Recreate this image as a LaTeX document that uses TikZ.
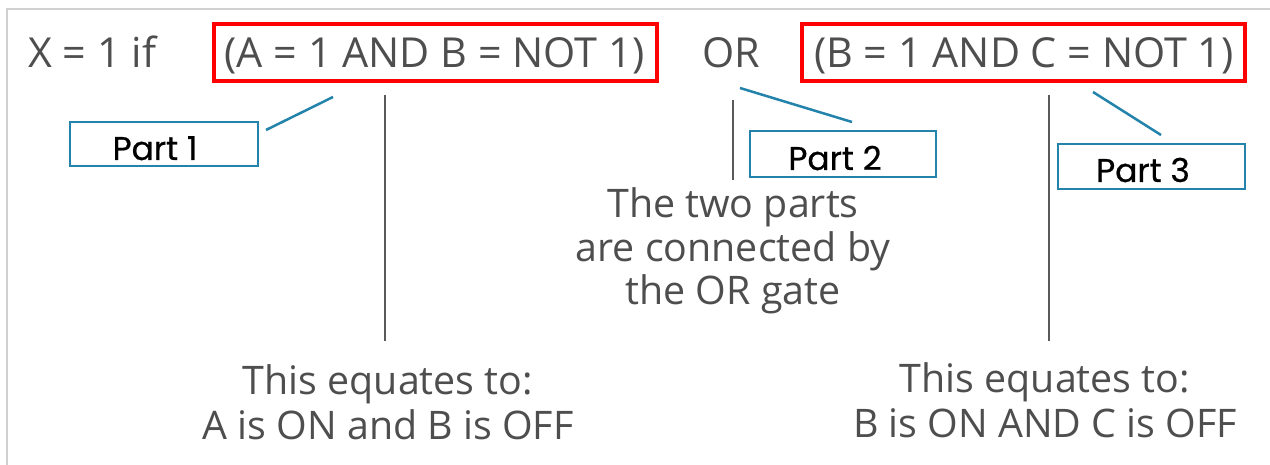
\documentclass[tikz,border=0pt]{standalone}
\usepackage{fontspec}
\setmainfont{Open Sans}
\newfontfamily\partfont[FakeBold=0.6]{Poppins}
\definecolor{txtgray}{HTML}{4E4E4E}
\definecolor{linegray}{HTML}{5A5A5A}
\definecolor{framegray}{HTML}{D0D0D0}
\definecolor{partblue}{HTML}{2383AB}
\definecolor{boxred}{HTML}{FF0000}
\tikzset{
  eqtext/.style={font=\fontsize{41.5}{48}\selectfont, text=txtgray, inner sep=0pt, anchor=base},
  notetext/.style={font=\fontsize{39.5}{46}\selectfont, text=txtgray, inner sep=0pt, align=center},
  redbox/.style={draw=boxred, line width=4bp, minimum width=443bp, minimum height=57bp, inner sep=0pt},
  partbox/.style={draw=partblue, line width=2.5bp, inner sep=0pt, font=\partfont\fontsize{33}{36}\selectfont, text=black},
  partline/.style={draw=partblue, line width=2.5bp},
  vline/.style={draw=linegray, line width=2bp}
}
\begin{document}
\begin{tikzpicture}[x=1bp,y=-1bp]
\useasboundingbox[fill=white] (0,0) rectangle (1270,465);
% frame
\draw[framegray, line width=1.5bp] (7,465) -- (7,9) -- (1270,9);
% equation
\node[eqtext, anchor=base west] (xif) at (28,68) {X = 1 if};
\node[redbox] (r1) at (435.5,52.5) {};
\node[eqtext] (p1) at (434.5,68) {(A = 1 AND B = NOT 1)};
\node[eqtext] (or) at (731,68) {OR};
\node[redbox] (r2) at (1023.5,52.5) {};
\node[eqtext] (p2) at (1024,68) {(B = 1 AND C = NOT 1)};
% part boxes
\node[partbox, minimum width=188bp, minimum height=44bp] (b1) at (164,144) {};
\node[partbox, anchor=base, draw=none] (t1) at (155,160) {Part 1};
\node[partbox, minimum width=186bp, minimum height=46bp] (b2) at (843,154) {};
\node[partbox, anchor=base, draw=none] (t2) at (835,170) {Part 2};
\node[partbox, minimum width=187bp, minimum height=45bp] (b3) at (1151.5,166.5) {};
\node[partbox, anchor=base, draw=none] (t3) at (1143,182) {Part 3};
% connector ends
\coordinate (c1a) at (266,130); \coordinate (c1b) at (333,97);
\coordinate (c2a) at (740,88);  \coordinate (c2b) at (852,122);
\coordinate (c3a) at (1093,92); \coordinate (c3b) at (1161,135);
\draw[partline] (c1a) -- (c1b);
\draw[partline] (c2a) -- (c2b);
\draw[partline] (c3a) -- (c3b);
% vertical lines
\coordinate (v1a) at (385,95);  \coordinate (v1b) at (385,341);
\coordinate (v2a) at (733,100); \coordinate (v2b) at (733,180);
\coordinate (v3a) at (1049,95); \coordinate (v3b) at (1049,341);
\draw[vline] (v1a) -- (v1b);
\draw[vline] (v2a) -- (v2b);
\draw[vline] (v3a) -- (v3b);
% notes (base anchor = last line's baseline)
\node[notetext, anchor=base, font=\fontsize{39.5}{44}\selectfont] (n2) at (733,305) {The two parts\\are connected by\\the OR gate};
\node[notetext, anchor=base] (n1) at (388,440) {This equates to:\\A is ON and B is OFF};
\node[notetext, anchor=base] (n3) at (1045,438) {This equates to:\\B is ON AND C is OFF};
\end{tikzpicture}
\end{document}
